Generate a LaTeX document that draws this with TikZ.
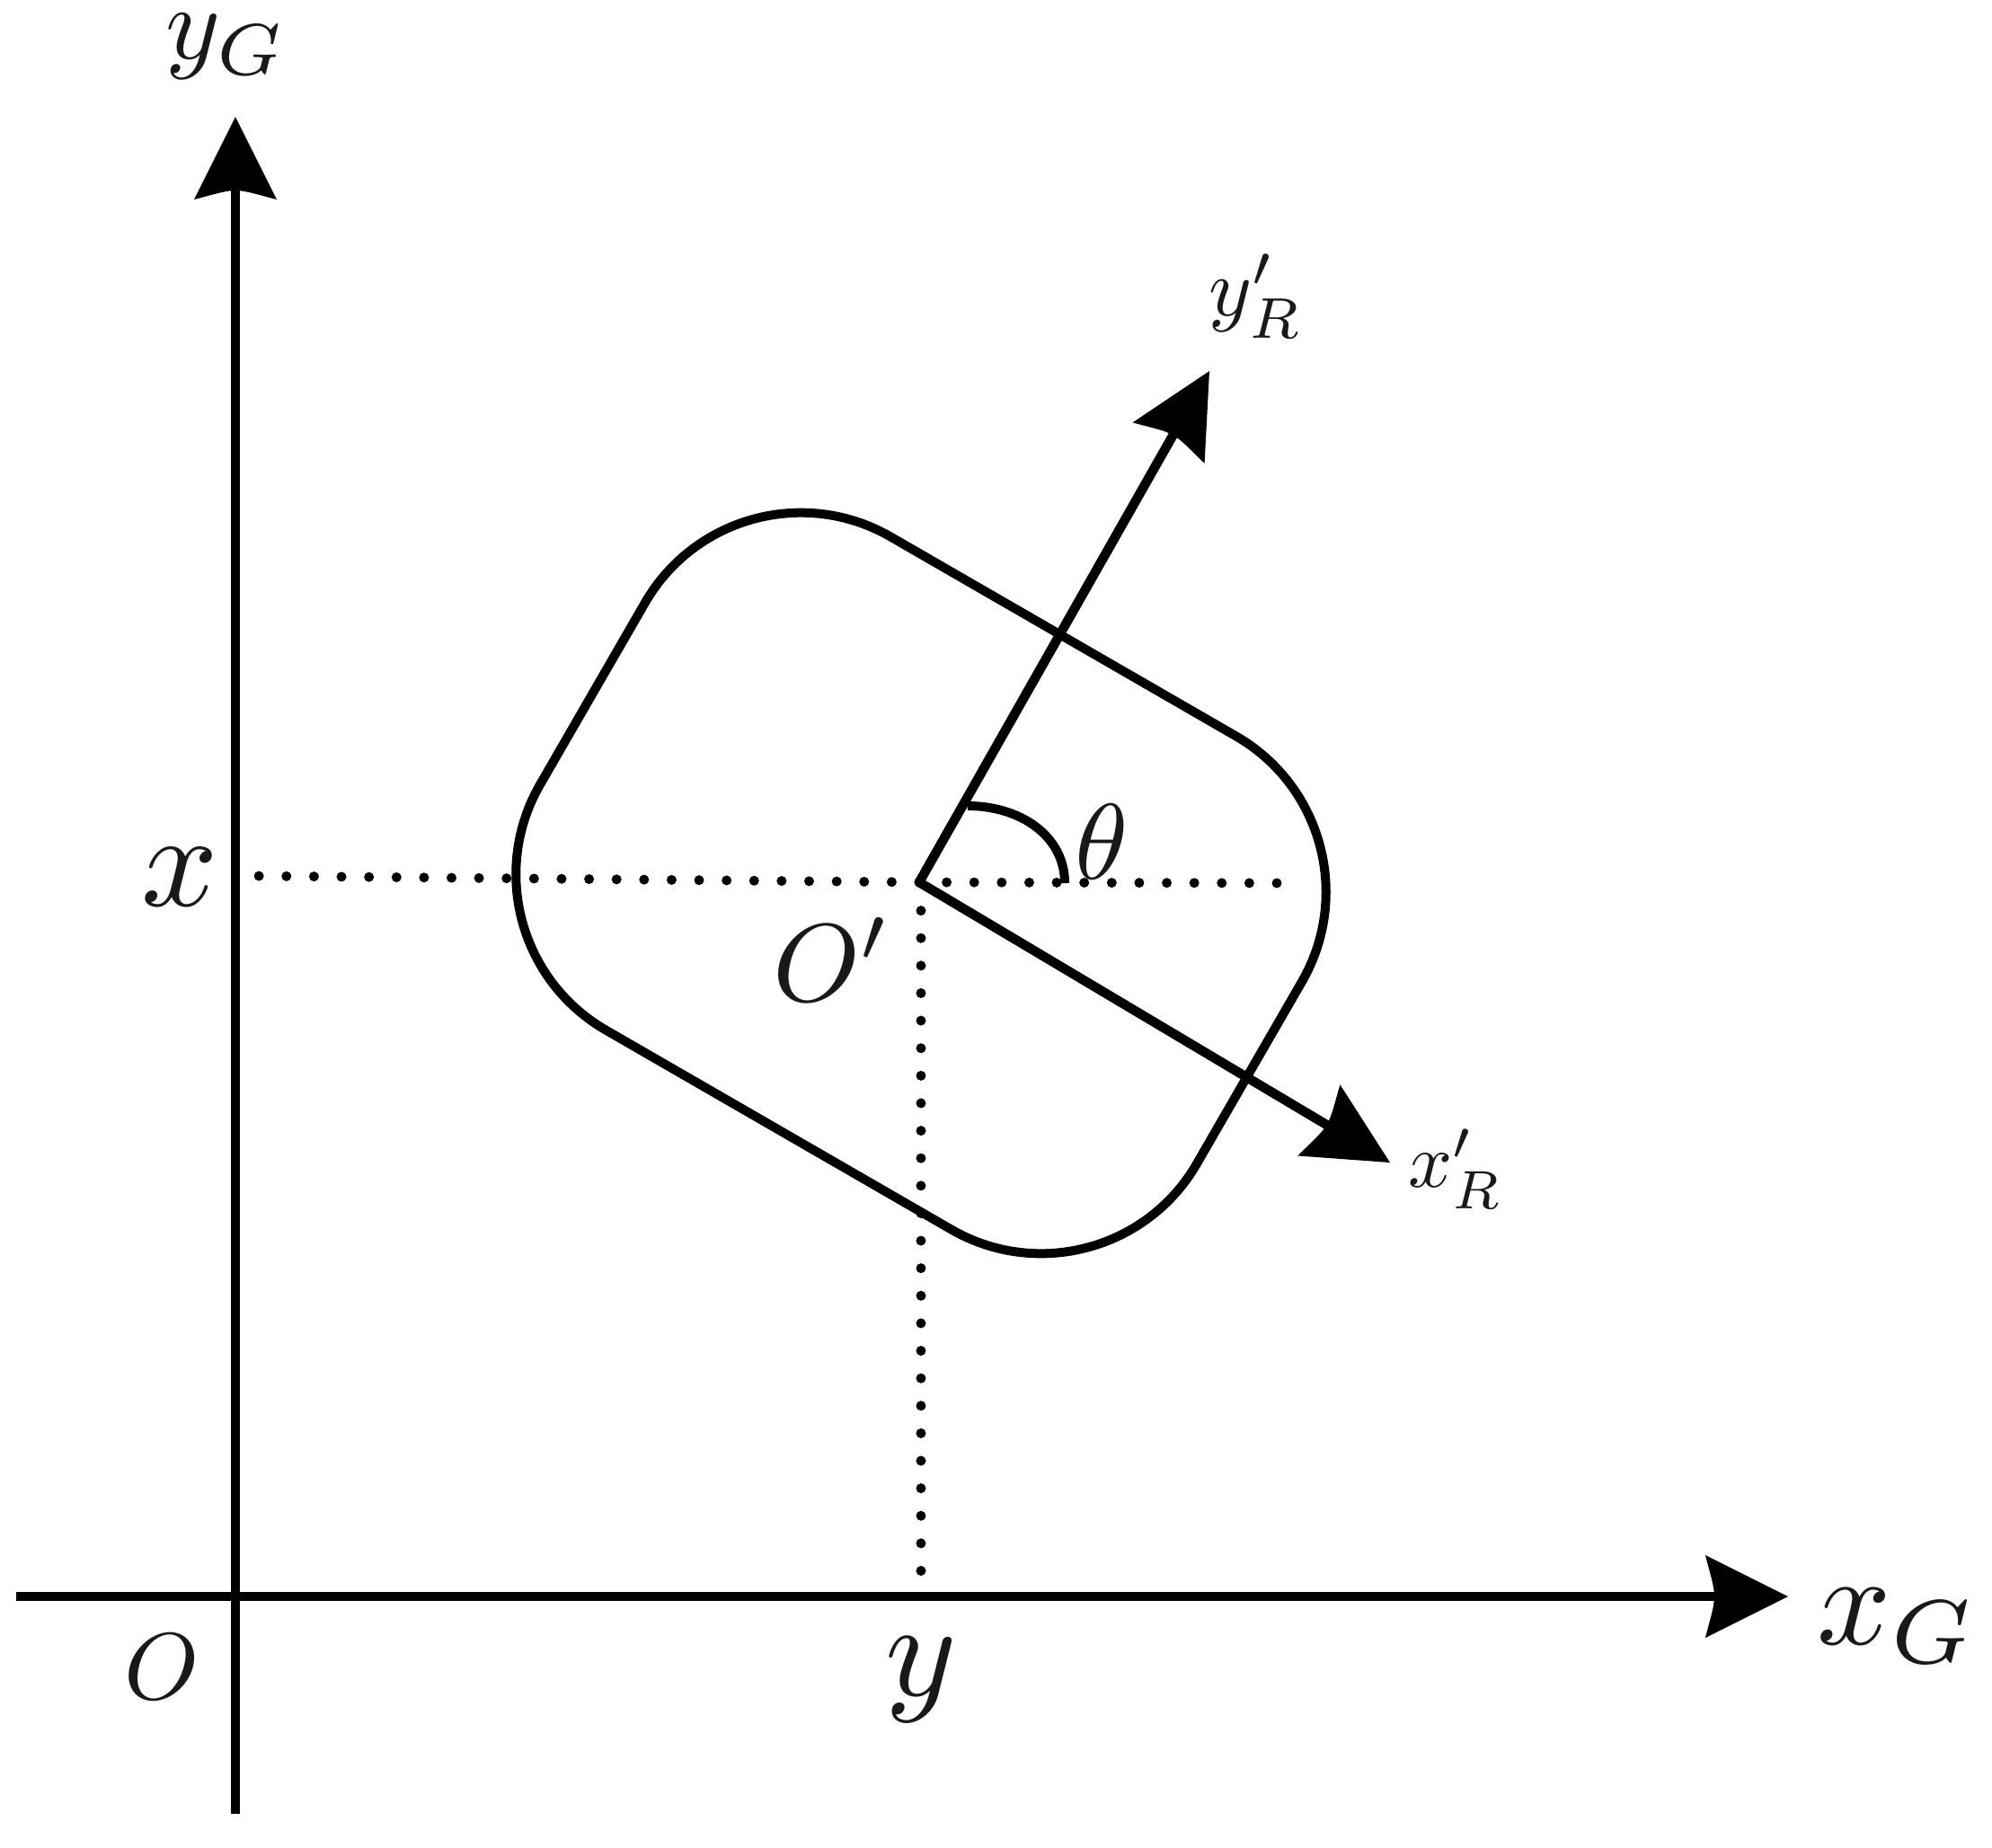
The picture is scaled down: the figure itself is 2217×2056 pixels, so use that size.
\documentclass[tikz,border=0pt]{standalone}
\usetikzlibrary{arrows.meta,calc}
\pgfdeclarearrow{
  name=CurvedBack,
  setup code={
    \pgfarrowssettipend{0pt}
    \pgfarrowssetbackend{-0.92cm}
    \pgfarrowssetlineend{-0.75cm}
    \pgfarrowssetvisualbackend{-0.82cm}
    \pgfarrowshullpoint{0pt}{0pt}
    \pgfarrowshullpoint{-0.92cm}{0.46cm}
    \pgfarrowshullpoint{-0.92cm}{-0.46cm}
  },
  drawing code={
    \pgfpathmoveto{\pgfpoint{0pt}{0pt}}
    \pgfpathlineto{\pgfpoint{-0.92cm}{0.46cm}}
    \pgfpathcurveto{\pgfpoint{-0.87cm}{0.26cm}}{\pgfpoint{-0.82cm}{0.12cm}}{\pgfpoint{-0.82cm}{0pt}}
    \pgfpathcurveto{\pgfpoint{-0.82cm}{-0.12cm}}{\pgfpoint{-0.87cm}{-0.26cm}}{\pgfpoint{-0.92cm}{-0.46cm}}
    \pgfpathclose
    \pgfusepathqfill
  }
}
\tikzset{
  px/.style={x=0.01cm,y=-0.01cm},
  ax/.style={line width=0.105cm,-{CurvedBack}},
  plain/.style={line width=0.1cm},
  dots/.style={line width=0.11cm,line cap=round,dash pattern=on 0pt off 0.306cm},
  lab/.style={inner sep=0,outer sep=0,anchor=center,text=black!90},
}
\begin{document}
\begin{tikzpicture}[px]
\useasboundingbox (0,0) rectangle (2217,2056);
\coordinate (O) at (262,1777);
\coordinate (yb) at (262,2019);
\coordinate (yt) at (262,130);
\coordinate (xl) at (18,1777);
\coordinate (xr) at (1990,1777);
\coordinate (P) at (1023,982);
\coordinate (C) at (1025,983);
\coordinate (ypt) at (1346,413);
\coordinate (xpt) at (1547,1294);
\coordinate (xd) at (285,975);
\coordinate (xe) at (1430,983);
\coordinate (yd) at (1025,1750);
\coordinate (a1) at (1185,983);
\coordinate (a2) at (1077,897);
\draw[ax] (yb) -- (yt);
\draw[ax] (xl) -- (xr);
\draw[ax] (P) -- (ypt);
\draw[ax] (P) -- (xpt);
\begin{scope}[shift={(C)},rotate=-30]
\draw[plain,rounded corners=2cm] (-422,-317) rectangle (422,317);
\end{scope}
\draw[dots] (P) -- (xd);
\draw[dots] (P) -- (xe);
\draw[dots] (C) -- (yd);
\draw[plain] (a1) .. controls (1185,930) and (1135,897) .. (a2);
\node[lab,scale=3.3] (lyg) at (252,52) {$y_G$};
\node[lab,scale=4.1] (lxg) at (2112,1810) {$x_G$};
\node[lab,scale=2.6] (lyr) at (1398,330) {$y'_R$};
\node[lab,scale=2.45] (lxr) at (1620,1301) {$x'_R$};
\node[lab,scale=4.25] (lx) at (200,976) {$x$};
\node[lab,scale=4.3] (ly) at (1025,1870) {$y$};
\node[lab,scale=3.0] (lO) at (180,1855) {$O$};
\node[lab,scale=3.5] (lOp) at (926,1068) {$O'$};
\node[lab,scale=3.4] (lt) at (1226,937) {$\theta$};
\end{tikzpicture}
\end{document}
